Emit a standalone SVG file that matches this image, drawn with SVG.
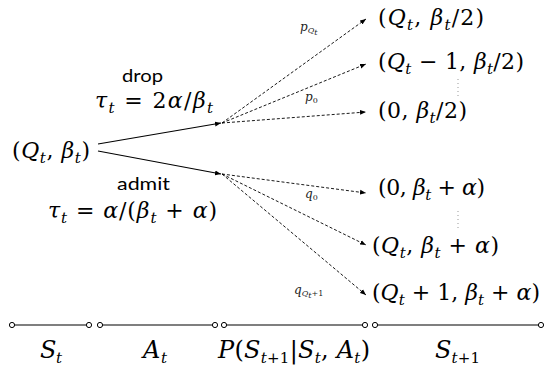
<svg xmlns="http://www.w3.org/2000/svg" width="544" height="369" viewBox="0 0 544 369">
<defs>
<style>
.m{font-family:"DejaVu Serif","Liberation Serif",serif;font-size:22px;fill:#000}
.b{font-size:24px}
.i{font-style:italic}
.s{font-size:15px;font-style:italic}
.sn{font-size:15px}
.lab{font-family:"DejaVu Serif","Liberation Serif",serif;font-style:italic;font-size:12px;fill:#222}
.sl{font-size:8px}
.w{font-family:Lato,"Open Sans",sans-serif;font-size:17px;fill:#000}
.solid{stroke:#000;stroke-width:1.1;fill:none}
.dash{stroke:#000;stroke-width:0.9;stroke-dasharray:3 2;fill:none}
.tl{stroke:#000;stroke-width:1.1;fill:none}
.c{fill:#fff;stroke:#000;stroke-width:1}
.dots{stroke:#999;stroke-width:1;stroke-dasharray:1 3;fill:none}
</style>
<marker id="ah" viewBox="0 0 10 10" refX="10" refY="5" markerWidth="6" markerHeight="6" markerUnits="userSpaceOnUse" orient="auto">
<path d="M0,1 L10,5 L0,9 Z" fill="#000"/>
</marker>
</defs>
<rect width="544" height="369" fill="#fff"/>

<g id="source">
<text class="m" x="12" y="158" textLength="78" lengthAdjust="spacing">(<tspan class="i">Q</tspan><tspan class="s" dy="5">t</tspan><tspan dy="-5">, </tspan><tspan class="i">β</tspan><tspan class="s" dy="5">t</tspan><tspan dy="-5">)</tspan></text>
</g>

<g id="drop-label">
<text class="w" x="122" y="82" textLength="41" lengthAdjust="spacingAndGlyphs">drop</text>
<text class="m" x="95" y="108" textLength="118" lengthAdjust="spacing"><tspan class="i">τ</tspan><tspan class="s" dy="5">t</tspan><tspan dy="-5"> = 2</tspan><tspan class="i">α</tspan>/<tspan class="i">β</tspan><tspan class="s" dy="5">t</tspan></text>
</g>

<g id="admit-label">
<text class="w" x="117" y="190" textLength="53" lengthAdjust="spacingAndGlyphs">admit</text>
<text class="m" x="48" y="218" textLength="169" lengthAdjust="spacing"><tspan class="i">τ</tspan><tspan class="s" dy="5">t</tspan><tspan dy="-5"> = </tspan><tspan class="i">α</tspan>/(<tspan class="i">β</tspan><tspan class="s" dy="5">t</tspan><tspan dy="-5"> + </tspan><tspan class="i">α</tspan>)</text>
</g>

<g id="s1">
<text class="m" x="378" y="25" textLength="106" lengthAdjust="spacing">(<tspan class="i">Q</tspan><tspan class="s" dy="5">t</tspan><tspan dy="-5">, </tspan><tspan class="i">β</tspan><tspan class="s" dy="5">t</tspan><tspan dy="-5">/2)</tspan></text>
</g>
<g id="s2">
<text class="m" x="378" y="69" textLength="146" lengthAdjust="spacing">(<tspan class="i">Q</tspan><tspan class="s" dy="5">t</tspan><tspan dy="-5"> − 1, </tspan><tspan class="i">β</tspan><tspan class="s" dy="5">t</tspan><tspan dy="-5">/2)</tspan></text>
</g>
<g id="s3">
<text class="m" x="378" y="118" textLength="89" lengthAdjust="spacing">(0, <tspan class="i">β</tspan><tspan class="s" dy="5">t</tspan><tspan dy="-5">/2)</tspan></text>
</g>
<g id="s4">
<text class="m" x="378" y="195" textLength="107" lengthAdjust="spacing">(0, <tspan class="i">β</tspan><tspan class="s" dy="5">t</tspan><tspan dy="-5"> + </tspan><tspan class="i">α</tspan>)</text>
</g>
<g id="s5">
<text class="m" x="372" y="253" textLength="127" lengthAdjust="spacing">(<tspan class="i">Q</tspan><tspan class="s" dy="5">t</tspan><tspan dy="-5">, </tspan><tspan class="i">β</tspan><tspan class="s" dy="5">t</tspan><tspan dy="-5"> + </tspan><tspan class="i">α</tspan>)</text>
</g>
<g id="s6">
<text class="m" x="372" y="300" textLength="168" lengthAdjust="spacing">(<tspan class="i">Q</tspan><tspan class="s" dy="5">t</tspan><tspan dy="-5"> + 1, </tspan><tspan class="i">β</tspan><tspan class="s" dy="5">t</tspan><tspan dy="-5"> + </tspan><tspan class="i">α</tspan>)</text>
</g>

<g id="ellipses">
<path class="dots" d="M458,79 V97 M458,211 V229"/>
</g>

<g id="connectors">
<path class="solid" d="M98,144 L221,123" marker-end="url(#ah)"/>
<path class="solid" d="M98,151 L221,174" marker-end="url(#ah)"/>
<path class="dash" d="M222,123 L366,19" marker-end="url(#ah)"/>
<path class="dash" d="M222,123 L366,64" marker-end="url(#ah)"/>
<path class="dash" d="M222,123 L366,112" marker-end="url(#ah)"/>
<path class="dash" d="M222,174 L366,193" marker-end="url(#ah)"/>
<path class="dash" d="M222,174 L366,245" marker-end="url(#ah)"/>
<path class="dash" d="M222,174 L366,295" marker-end="url(#ah)"/>
<text class="lab" x="300" y="31">p<tspan class="sl" dy="2">Q</tspan><tspan class="sl" font-size="6" dy="2">t</tspan></text>
<text class="lab" x="305" y="101">p<tspan class="sl" font-style="normal" dy="2">0</tspan></text>
<text class="lab" x="305" y="198">q<tspan class="sl" font-style="normal" dy="2">0</tspan></text>
<text class="lab" x="294" y="294">q<tspan class="sl" dy="2">Q</tspan><tspan class="sl" font-size="6" dy="2">t</tspan><tspan class="sl" font-style="normal" dy="-2">+1</tspan></text>
</g>

<g id="timeline">
<path class="tl" d="M12,325 H89 M100,325 H215 M224,325 H365 M375,325 H541"/>
<circle class="c" cx="12" cy="325" r="2.6"/>
<circle class="c" cx="89" cy="325" r="2.6"/>
<circle class="c" cx="100" cy="325" r="2.6"/>
<circle class="c" cx="215" cy="325" r="2.6"/>
<circle class="c" cx="224" cy="325" r="2.6"/>
<circle class="c" cx="365" cy="325" r="2.6"/>
<circle class="c" cx="375" cy="325" r="2.6"/>
<circle class="c" cx="541" cy="325" r="2.6"/>
<text class="m b" x="40" y="358" textLength="22" lengthAdjust="spacing"><tspan class="i">S</tspan><tspan class="s" dy="5">t</tspan></text>
<text class="m b" x="143" y="358" textLength="24" lengthAdjust="spacing"><tspan class="i">A</tspan><tspan class="s" dy="5">t</tspan></text>
<text class="m b" x="218" y="358" textLength="152" lengthAdjust="spacing"><tspan class="i">P</tspan>(<tspan class="i">S</tspan><tspan class="s" dy="5">t</tspan><tspan class="sn" dy="0">+1</tspan><tspan dy="-5">|</tspan><tspan class="i">S</tspan><tspan class="s" dy="5">t</tspan><tspan dy="-5">, </tspan><tspan class="i">A</tspan><tspan class="s" dy="5">t</tspan><tspan dy="-5">)</tspan></text>
<text class="m b" x="435" y="358" textLength="45" lengthAdjust="spacing"><tspan class="i">S</tspan><tspan class="s" dy="5">t</tspan><tspan class="sn">+1</tspan></text>
</g>
</svg>
